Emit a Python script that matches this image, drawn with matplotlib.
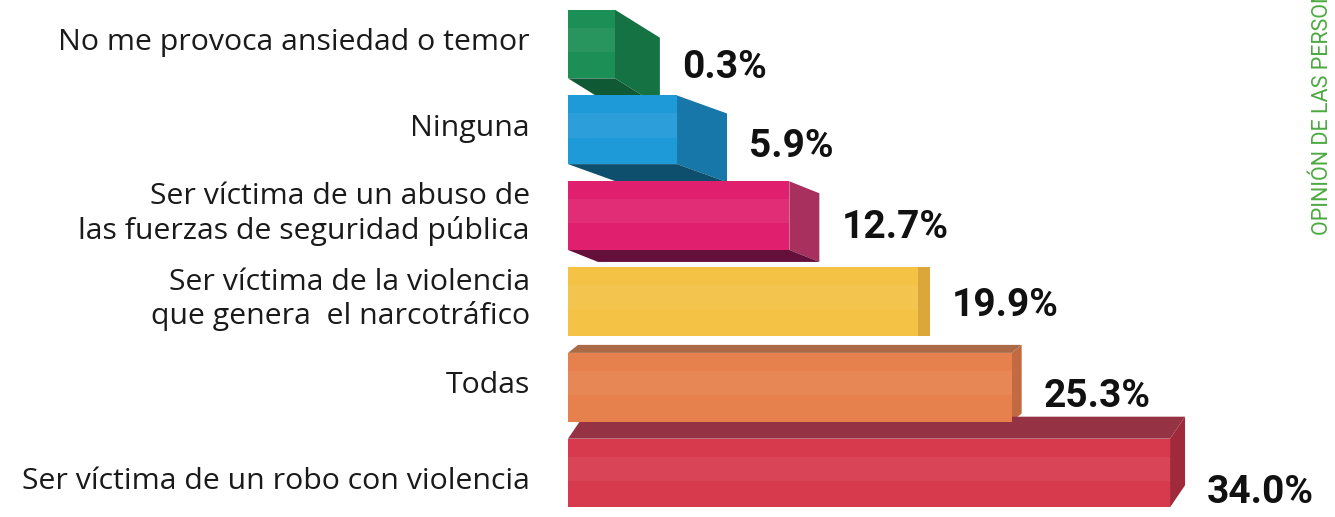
import numpy as np
import matplotlib
matplotlib.use("Agg")
import matplotlib.pyplot as plt
from matplotlib.patches import Polygon

# datos
categorias = ["No me provoca ansiedad o temor",
              "Ninguna",
              "Ser víctima de un abuso de\nlas fuerzas de seguridad pública",
              "Ser víctima de la violencia\nque genera  el narcotráfico",
              "Todas",
              "Ser víctima de un robo con violencia"]
valores = [0.3, 5.9, 12.7, 19.9, 25.3, 34.0]
etiquetas = ["0.3%", "5.9%", "12.7%", "19.9%", "25.3%", "34.0%"]

# colores: frente, lado, cara superior/inferior
frente = ["#1b8f55", "#1f9ad8", "#e0206e", "#f4c244", "#e6804c", "#d73a4c"]
lado = ["#157343", "#1677a8", "#a8305f", "#dba63a", "#c46a40", "#a02a3c"]
tapa = ["#0f5a34", "#0e4f6e", "#65103a", "#c99632", "#a96a45", "#953244"]
prof_x = [45, 50, 30, 12, 10, 15]     # profundidad lateral en px
prof_y = [28, 18, 12, 0, -8, -22]     # desplazamiento vertical de la cara trasera en px

# escala con perspectiva (en px a partir del cero)
B, C = 11.2, 0.1278
X0 = 656.5


def fwd(v):
    v = np.asarray(v, dtype=float)
    return np.where(v >= 0, B * v + C * v * v, B * v)


def inv(u):
    u = np.asarray(u, dtype=float)
    return np.where(u >= 0, (-B + np.sqrt(B * B + 4 * C * np.maximum(u, 0))) / (2 * C), u / B)


def px2v(px):
    return float(inv(px - X0))


def v2px(v):
    return float(fwd(v)) + X0


PX_Y = 85.8
Y0 = 44
inicio = 568    # borde izquierdo de las barras en px
alto = 0.8

fig = plt.figure(figsize=(13.35, 5.17), dpi=100)
ax = fig.add_axes([0, 0, 1, 1])
ax.set_xscale("function", functions=(fwd, inv))
ax.set_xlim(px2v(0), px2v(1335))
ax.set_ylim((517 - Y0) / PX_Y, -Y0 / PX_Y)
ax.axis("off")

for i, v in enumerate(valores):
    fin_px = v2px(v)
    dx_px = prof_x[i]
    dy = prof_y[i] / PX_Y
    izq = px2v(inicio)
    izq2 = px2v(inicio + dx_px)
    fin = px2v(fin_px - dx_px)
    top = i - alto / 2
    bot = i + alto / 2
    # cara lateral derecha
    ax.add_patch(Polygon([(fin, top), (v, top + dy), (v, bot + dy), (fin, bot)],
                         closed=True, facecolor=lado[i], edgecolor="none", zorder=2))
    # cara inferior o superior
    if dy > 0:
        ax.add_patch(Polygon([(izq, bot), (fin, bot), (v, bot + dy), (izq2, bot + dy)],
                             closed=True, facecolor=tapa[i], edgecolor="none", zorder=2))
    elif dy < 0:
        ax.add_patch(Polygon([(izq, top), (fin, top), (v, top + dy), (izq2, top + dy)],
                             closed=True, facecolor=tapa[i], edgecolor="none", zorder=2))
    # cara frontal
    ax.barh(i, fin - izq, left=izq, height=alto, color=frente[i], edgecolor="none", zorder=3)
    # brillo suave en el centro
    ax.barh(i - 0.05, fin - izq, left=izq, height=alto * 0.35, color="white",
            alpha=0.06, edgecolor="none", zorder=4)

    desp = (4 + 0.7 * abs(prof_y[i])) / PX_Y
    ax.text(px2v(fin_px + 22), i + desp, etiquetas[i], ha="left", va="center",
            fontsize=28, fontweight="bold", family=["Roboto", "DejaVu Sans"],
            color="#111111", zorder=5)
    ax.text(px2v(530), i + (0.1 if i == 5 else -0.02), categorias[i], ha="right", va="center",
            fontsize=21.8, family=["Open Sans", "DejaVu Sans"], color="#1a1a1a",
            linespacing=1.2, zorder=5)

fig.text(1322 / 1335, 1 - 235 / 517, "OPINIÓN DE LAS PERSONAS", rotation=90,
         ha="center", va="bottom", fontsize=15.5, color="#4caa40",
         family=["Roboto", "DejaVu Sans"])

fig.savefig("out.png", dpi=100)
